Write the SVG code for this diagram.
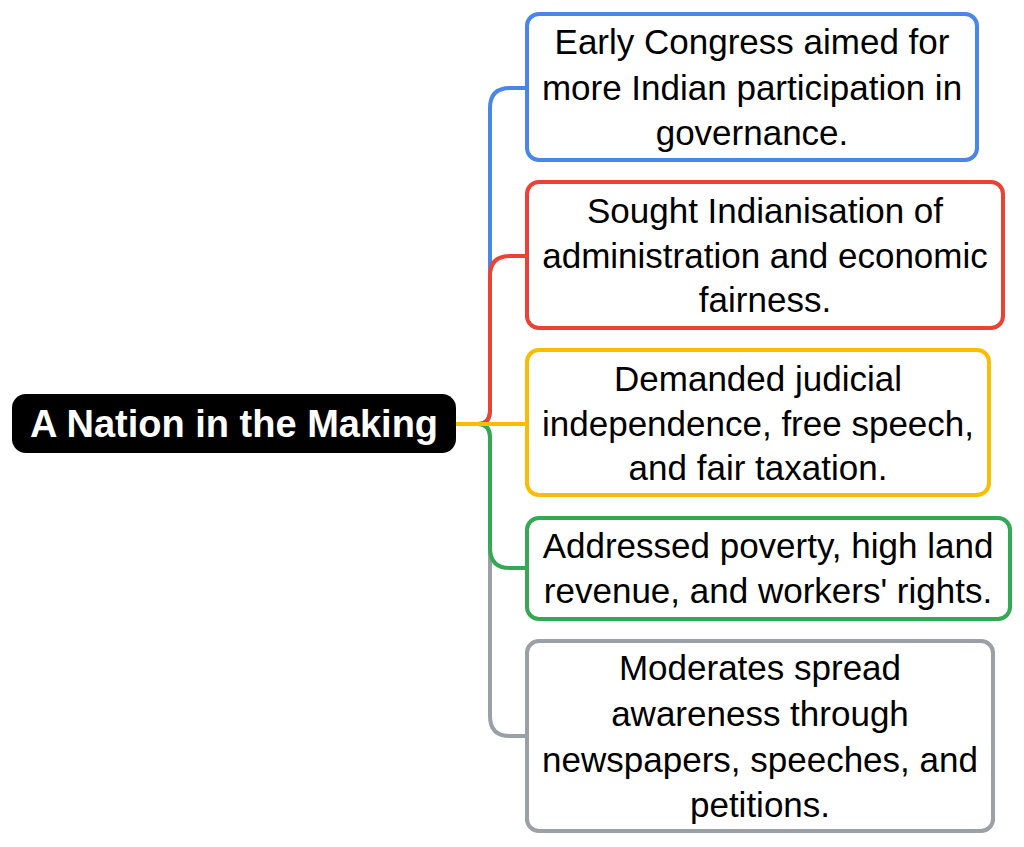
<svg xmlns="http://www.w3.org/2000/svg" width="1024" height="847" viewBox="0 0 1024 847">
<style>
.n{fill:#fff;stroke-width:4}
.t{font-family:"Liberation Sans",Arial,sans-serif;font-size:35px;fill:#000;text-anchor:middle}
.c{fill:none;stroke-width:4}
</style>
<rect width="1024" height="847" fill="#fff"/>
<g id="connectors">
<path class="c" stroke="#4a86e8" d="M456,424 H478 Q490,424 490,410 V108 Q490,88 510,88 H527"/>
<path class="c" stroke="#ea4335" d="M456,424 H478 Q490,424 490,410 V276 Q490,256 510,256 H527"/>
<path class="c" stroke="#9aa0a6" d="M456,424 H478 Q490,424 490,438 V716 Q490,736 510,736 H527"/>
<path class="c" stroke="#34a853" d="M456,424 H478 Q490,424 490,438 V548 Q490,568 510,568 H527"/>
<path class="c" stroke="#fbbc04" d="M456,424 H527"/>
</g>
<g id="root">
<rect x="12" y="394" width="444" height="59" rx="14" fill="#000"/>
<text x="234" y="437" font-family="Liberation Sans,Arial,sans-serif" font-size="38" font-weight="bold" fill="#fff" text-anchor="middle">A Nation in the Making</text>
</g>
<g id="n1">
<rect class="n" x="527" y="14" width="450" height="146" rx="12" stroke="#4a86e8"/>
<text class="t" x="752" y="54">Early Congress aimed for</text>
<text class="t" x="752" y="100">more Indian participation in</text>
<text class="t" x="752" y="145">governance.</text>
</g>
<g id="n2">
<rect class="n" x="527" y="182" width="476" height="146" rx="12" stroke="#ea4335"/>
<text class="t" x="765" y="223">Sought Indianisation of</text>
<text class="t" x="765" y="268">administration and economic</text>
<text class="t" x="765" y="312">fairness.</text>
</g>
<g id="n3">
<rect class="n" x="527" y="350" width="462" height="145" rx="12" stroke="#fbbc04"/>
<text class="t" x="758" y="391">Demanded judicial</text>
<text class="t" x="758" y="436">independence, free speech,</text>
<text class="t" x="758" y="480">and fair taxation.</text>
</g>
<g id="n4">
<rect class="n" x="527" y="518" width="483" height="101" rx="12" stroke="#34a853"/>
<text class="t" x="768" y="558">Addressed poverty, high land</text>
<text class="t" x="768" y="603">revenue, and workers' rights.</text>
</g>
<g id="n5">
<rect class="n" x="527" y="641" width="466" height="190" rx="12" stroke="#9aa0a6"/>
<text class="t" x="760" y="680">Moderates spread</text>
<text class="t" x="760" y="726">awareness through</text>
<text class="t" x="760" y="772">newspapers, speeches, and</text>
<text class="t" x="760" y="817">petitions.</text>
</g>
</svg>
